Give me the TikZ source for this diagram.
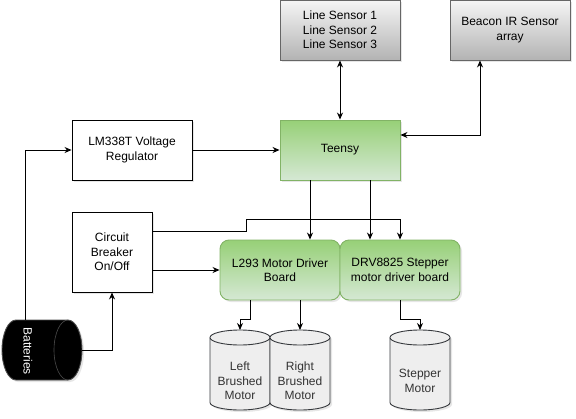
\documentclass[tikz,border=0pt]{standalone}
\usepackage{fontspec}
\setmainfont{Liberation Sans}
\usetikzlibrary{positioning}
\usetikzlibrary{arrows.meta}
\usetikzlibrary{shadows}

\definecolor{grntop}{HTML}{97D077}
\definecolor{grnbot}{HTML}{D5E8D4}
\definecolor{grnline}{HTML}{82B366}
\definecolor{gratop}{HTML}{F5F5F5}
\definecolor{grabot}{HTML}{B3B3B3}
\definecolor{graline}{HTML}{666666}
\definecolor{cylfill}{HTML}{EEEEEE}
\definecolor{cylline}{HTML}{36393D}

\tikzset{
	shade/.style={drop shadow={shadow xshift=2pt, shadow yshift=-2pt, opacity=0.2}},
	blockbox/.style={draw, line width=0.9pt, fill=white, minimum width=120pt, minimum height=60pt,
		align=center, inner sep=2pt, shade},
	sensorbox/.style={blockbox, draw=graline, top color=gratop, bottom color=grabot},
	boardbox/.style={blockbox, draw=grnline, top color=grntop, bottom color=grnbot},
	motorcyl/.style={draw=cylline, line width=0.9pt, fill=cylfill},
	motortext/.style={align=center, text=black!80, inner sep=0pt},
	motorcap/.style={x radius=30pt, y radius=7.5pt},
	battcap/.style={x radius=14pt, y radius=30pt},
	conn/.style={line width=0.9pt, -{Stealth[length=7pt,width=6pt]}},
	bconn/.style={line width=0.9pt, {Stealth[length=7pt,width=6pt]}-{Stealth[length=7pt,width=6pt]}}
}

\begin{document}
\begin{tikzpicture}[x=1pt, y=-1pt, font=\fontsize{12}{14.4}\selectfont]
		\useasboundingbox (0,0) rectangle (576,418);

		% Sensors on top
		\node[sensorbox] (sense) at (340,30) {Line Sensor 1\\Line Sensor 2\\Line Sensor 3};
		\node[sensorbox] (beacon) at (510,30) {Beacon IR Sensor\\array};

		% Controller and power
		\node[boardbox] (teensy) at (340,150) {Teensy};
		\node[blockbox] (lmreg) at (132,150) {LM338T Voltage\\Regulator};
		\node[blockbox, minimum width=80pt, minimum height=80pt] (breaker) at (112,252) {Circuit\\Breaker\\On/Off};

		% Driver boards
		\node[boardbox, rounded corners=9pt] (l293) at (280,270) {L293 Motor Driver\\Board};
		\node[boardbox, rounded corners=9pt] (drv) at (400,270) {DRV8825 Stepper\\motor driver board};

		% Motors (upright cylinders)
		\foreach \n/\cx/\txt in {lbm/240/{Left\\Brushed\\Motor}, rbm/300/{Right\\Brushed\\Motor}, stm/420/{Stepper\\Motor}} {
				\draw[motorcyl, shade] (\cx-30,337.5) -- (\cx-30,402.5) arc[start angle=180, end angle=360, motorcap]
					-- (\cx+30,337.5) arc[start angle=0, end angle=180, motorcap] -- cycle;
				\draw[motorcyl] (\cx-30,337.5) arc[start angle=180, end angle=360, motorcap];
				\node[motortext] (\n) at (\cx,381) {\txt};
				\coordinate (\n-top) at (\cx,330);
			}

		% Batteries (lying cylinder)
		\draw[draw=gray!60!black, line width=0.9pt, fill=black, shade] (16,320) -- (68,320)
			arc[start angle=90, end angle=-90, battcap] -- (16,380) arc[start angle=270, end angle=90, battcap] -- cycle;
		\draw[gray!60!black, line width=0.6pt] (68,320) arc[start angle=90, end angle=270, battcap];
		\node[text=white, inner sep=0pt] (batt) at (28,351) {\rotatebox[origin=c]{-90}{Batteries}};
		\coordinate (batt-top) at (25,320);
		\coordinate (batt-right) at (82,350);

		% Power wiring
		\draw[conn] (batt-top) |- (lmreg.west);
		\draw[conn] (batt-right) -| (breaker.south);
		\draw[conn] (lmreg.east) -- (teensy.west);
		\draw[conn] ([yshift=21pt]breaker.east) -- ++(94pt,0) |- ([yshift=20pt]drv.north) -- (drv.north);
		\draw[conn] (l293.west -| breaker.east) -- (l293.west);

		% Signals
		\draw[bconn] (sense.south) -- (teensy.north);
		\draw[bconn] ([xshift=-30pt]beacon.south) |- ([yshift=15pt]teensy.east);
		\draw[conn] ([xshift=-30pt]teensy.south) -- ([xshift=30pt]l293.north);
		\draw[conn] ([xshift=30pt]teensy.south) -- ([xshift=-30pt]drv.north);

		% Motor outputs
		\draw[conn] ([xshift=-30pt]l293.south) -- ++(0,-19pt) -| (lbm-top);
		\draw[conn] ([xshift=20pt]l293.south) -- (rbm-top);
		\draw[conn] (drv.south) -- ++(0,-19pt) -| (stm-top);
	\end{tikzpicture}
\end{document}
